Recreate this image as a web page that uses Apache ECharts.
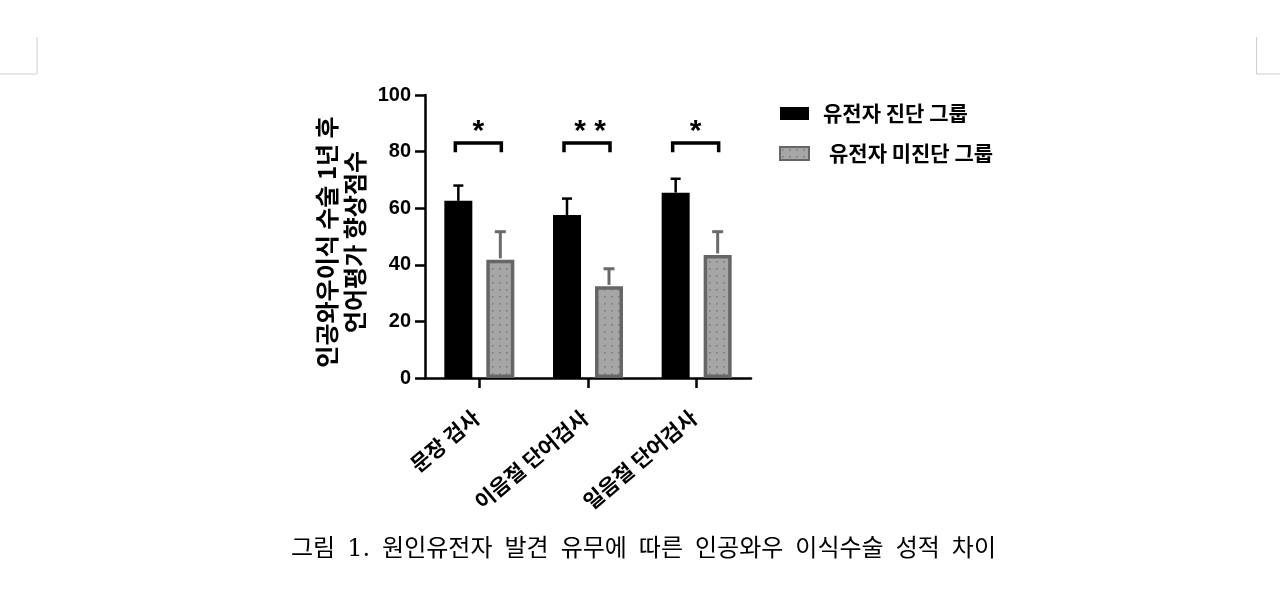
<!DOCTYPE html>
<html><head><meta charset="utf-8">
<script src="https://cdn.jsdelivr.net/npm/echarts@6/dist/echarts.min.js"></script>
<style>html,body{margin:0;padding:0;background:#fff;}#c{width:1280px;height:595px;}</style>
</head><body><div id="c"></div>
<script>
const categories = ['문장 검사', '이음절 단어검사', '일음절 단어검사'];
const diagMean = [62.6, 57.6, 65.5];
const diagErr = [5.4, 5.8, 4.9];
const nondiagMean = [41.8, 32.4, 43.5];
const nondiagErr = [9.9, 6.2, 8.2];
const sigLabels = ['*', '**', '*'];
const sigLevel = [83, 83, 83];
const yTicks = [0, 20, 40, 60, 80, 100];
const seriesNames = ['유전자 진단 그룹', '유전자 미진단 그룹'];
const captionText = '그림\u20021.\u2002원인유전자\u2002발견\u2002유무에\u2002따른\u2002인공와우\u2002이식수술\u2002성적\u2002차이';

// dotted pattern for the gray bars
const pc = document.createElement('canvas');
pc.width = 7; pc.height = 7;
const pctx = pc.getContext('2d');
pctx.fillStyle = '#a6a6a6'; pctx.fillRect(0, 0, 7, 7);
pctx.fillStyle = '#7c7c7c'; pctx.fillRect(2, 2, 1.6, 1.6);

const chart = echarts.init(document.getElementById('c'));
const FONT = 'Liberation Sans, Arial, Noto Sans CJK KR, sans-serif';
const KFONT = 'Noto Sans CJK KR, Liberation Sans, sans-serif';
const BAR_OFF = 21;

function errItem(offset, color, width, capW) {
  return function (params, api) {
    const i = api.value(0), v = api.value(1), e = api.value(2);
    const p0 = api.coord([i, v]);
    const p1 = api.coord([i, v + e]);
    const x = p0[0] + offset;
    return {
      type: 'group',
      children: [
        {type: 'line', shape: {x1: x, y1: p0[1], x2: x, y2: p1[1]}, style: {stroke: color, lineWidth: width}},
        {type: 'line', shape: {x1: x - capW / 2, y1: p1[1], x2: x + capW / 2, y2: p1[1]}, style: {stroke: color, lineWidth: width}}
      ]
    };
  };
}

chart.setOption({
  animation: false,
  grid: {left: 425, top: 95, width: 326, height: 283, containLabel: false},
  legend: {
    left: 779, top: 103, orient: 'vertical', itemWidth: 29, itemHeight: 13, itemGap: 19,
    icon: 'rect', padding: 0,
    data: [
      {name: seriesNames[0]},
      {name: seriesNames[1], textStyle: {padding: [0, 0, 0, 15]}}
    ],
    textStyle: {fontFamily: KFONT, fontSize: 21, fontWeight: 'bold', color: '#000', lineHeight: 20, padding: [0, 0, 0, 9]}
  },
  graphic: [
    {type: 'text', x: 341, y: 242, rotation: Math.PI / 2,
      style: {text: '인공와우이식 수술 1년 후\n언어평가 향상점수', fontFamily: KFONT, fontSize: 24, fontWeight: 'bold',
        fill: '#000', align: 'center', verticalAlign: 'middle', lineHeight: 28}},
    {type: 'text', x: 643.5, y: 550,
      style: {text: captionText, fontFamily: 'DejaVu Serif, Noto Sans CJK KR, serif', fontSize: 24,
        fill: '#000', align: 'center', verticalAlign: 'middle'}},
    {type: 'polyline', shape: {points: [[37, 37], [37, 74], [0, 74]]}, style: {stroke: '#cfcfcf', lineWidth: 1, fill: null}},
    {type: 'polyline', shape: {points: [[1256.5, 37], [1256.5, 74], [1280, 74]]}, style: {stroke: '#cfcfcf', lineWidth: 1, fill: null}}
  ],
  xAxis: {
    type: 'category', data: categories,
    axisLine: {lineStyle: {color: '#000', width: 2.5}},
    axisTick: {show: true, alignWithLabel: true, length: 10, lineStyle: {color: '#000', width: 2.5}},
    axisLabel: {rotate: 40, margin: 34, padding: [0, 4, 0, 0], fontFamily: KFONT, fontSize: 21, fontWeight: 'bold', color: '#000'}
  },
  yAxis: {
    type: 'value', min: 0, max: 100, interval: 20,
    axisLine: {show: true, lineStyle: {color: '#000', width: 2.5}},
    axisTick: {show: true, length: 10, lineStyle: {color: '#000', width: 2.5}},
    splitLine: {show: false},
    axisLabel: {margin: 14, fontFamily: FONT, fontSize: 20, fontWeight: 'bold', color: '#000',
      formatter: v => yTicks.indexOf(v) >= 0 ? String(v) : ''}
  },
  series: [
    {name: seriesNames[0], type: 'bar', data: diagMean, barWidth: 28, barGap: '50%',
      itemStyle: {color: '#000'}},
    {name: seriesNames[1], type: 'bar', data: nondiagMean, barWidth: 28,
      itemStyle: {color: {image: pc, repeat: 'repeat'}, borderColor: '#666', borderWidth: 3.5}},
    {type: 'custom', name: 'err1', data: diagMean.map((v, i) => [i, v, diagErr[i]]),
      encode: {x: 0, y: 1}, renderItem: errItem(-BAR_OFF, '#000', 2.5, 10), z: 1},
    {type: 'custom', name: 'err2', data: nondiagMean.map((v, i) => [i, v + 0.5, nondiagErr[i] - 0.5]),
      encode: {x: 0, y: 1}, renderItem: errItem(BAR_OFF, '#6a6a6a', 3, 11), z: 1},
    {type: 'custom', name: 'sig', data: sigLevel.map((v, i) => [i, v, sigLabels[i]]),
      encode: {x: 0, y: 1},
      renderItem: function (params, api) {
        const i = api.value(0), v = api.value(1);
        const p = api.coord([i, v]);
        const pl = api.coord([i, v - 3.2]);
        const xl = p[0] - 24, xr = p[0] + 22;
        const s = sigLabels[i].split('').join(' ');
        return {
          type: 'group',
          children: [
            {type: 'polyline', shape: {points: [[xl, pl[1]], [xl, p[1]], [xr, p[1]], [xr, pl[1]]]},
              style: {stroke: '#000', lineWidth: 3.5, fill: null, lineJoin: 'miter'}},
            {type: 'text', x: p[0] + (s.length > 1 ? 2 : -1), y: p[1] + 4,
              style: {text: s, fontFamily: FONT, fontSize: 30, fontWeight: 'bold', fill: '#000',
                align: 'center', verticalAlign: 'bottom'}}
          ]
        };
      }}
  ]
});
</script></body></html>
